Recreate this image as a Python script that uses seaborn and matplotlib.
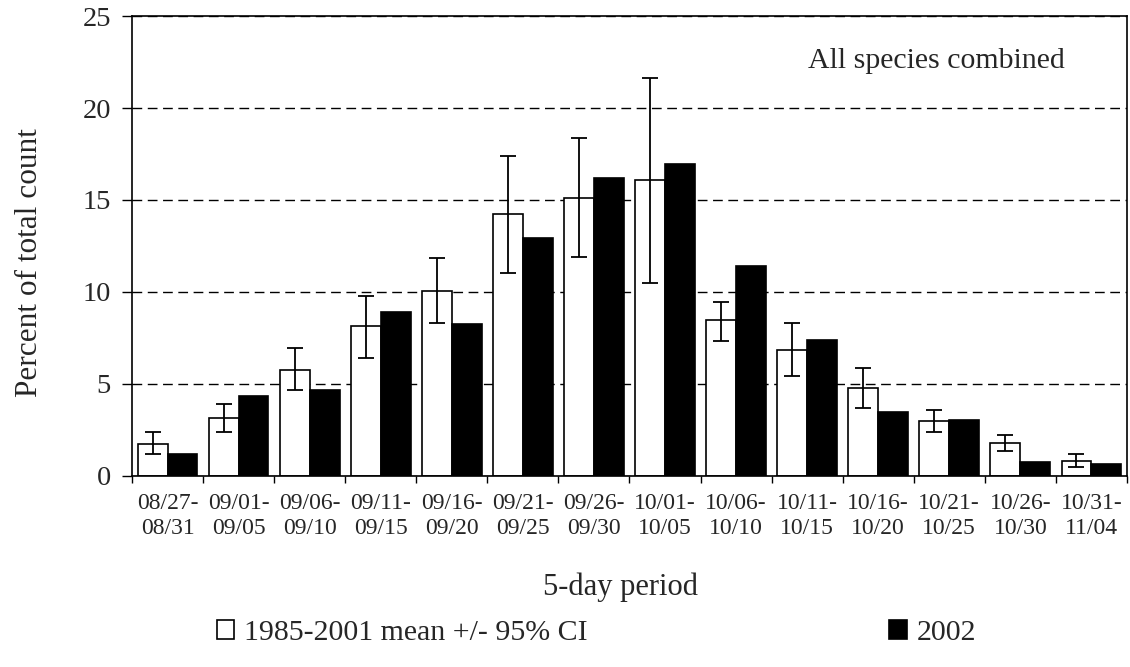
import numpy as np
import pandas as pd
import matplotlib
matplotlib.use("Agg")
import matplotlib.pyplot as plt
import seaborn as sns

periods = ["08/27-\n08/31", "09/01-\n09/05", "09/06-\n09/10", "09/11-\n09/15",
           "09/16-\n09/20", "09/21-\n09/25", "09/26-\n09/30", "10/01-\n10/05",
           "10/06-\n10/10", "10/11-\n10/15", "10/16-\n10/20", "10/21-\n10/25",
           "10/26-\n10/30", "10/31-\n11/04"]
mean_85_01 = [1.72, 3.13, 5.74, 8.13, 10.07, 14.22, 15.09, 16.07, 8.48, 6.85, 4.76, 3.01, 1.81, 0.83]
ci_low = [1.18, 2.37, 4.66, 6.39, 8.33, 11.05, 11.92, 10.51, 7.36, 5.42, 3.68, 2.37, 1.38, 0.51]
ci_high = [2.37, 3.89, 6.94, 9.78, 11.83, 17.39, 18.37, 21.61, 9.44, 8.33, 5.85, 3.57, 2.25, 1.18]
y_2002 = [1.21, 4.35, 4.69, 8.93, 8.28, 12.93, 16.18, 16.96, 11.41, 7.39, 3.48, 3.04, 0.76, 0.67]
series_names = ["1985-2001 mean +/- 95% CI", "2002"]
yticks = [0, 5, 10, 15, 20, 25]

sns.set_theme(style="white")
plt.rcParams['font.family'] = ['Liberation Serif', 'DejaVu Serif']

df = pd.DataFrame({
    "period": periods * 2,
    "value": mean_85_01 + y_2002,
    "series": [series_names[0]] * len(periods) + [series_names[1]] * len(periods),
})

fig = plt.figure(figsize=(11.3, 6.67), dpi=100)
ax = fig.add_axes([0.1168, 0.2864, 0.8805, 0.6896])

sns.barplot(data=df, x="period", y="value", hue="series", order=periods,
            hue_order=series_names,
            palette={series_names[0]: "white", series_names[1]: "black"},
            edgecolor="black", linewidth=1.2, width=0.84, saturation=1,
            errorbar=None, ax=ax, zorder=3)

# error bars on the first series, centred on its bars
bars = ax.containers[0]
centers = [p.get_x() + p.get_width() / 2 for p in bars]
m = np.array(mean_85_01)
yerr = [m - np.array(ci_low), np.array(ci_high) - m]
ax.errorbar(centers, m, yerr=yerr, fmt="none", ecolor="black",
            elinewidth=1.3, capsize=5.5, capthick=1.3, zorder=4)

ax.set_ylim(0, 25)
ax.set_xlim(-0.5, len(periods) - 0.5)
ax.set_yticks(yticks)
ax.yaxis.grid(True, linestyle=(0, (7, 4)), color="black", linewidth=1.0)
ax.xaxis.grid(False)
ax.set_axisbelow(True)

for s in ax.spines.values():
    s.set_color("black")
    s.set_linewidth(1.2)
    s.set_zorder(5)

ax.set_xticks(np.arange(len(periods)))
ax.set_xticklabels(periods, fontsize=17, linespacing=1.25)
ax.set_xticks(np.arange(-0.5, len(periods), 1), minor=True)
ax.tick_params(axis="x", which="major", length=0, pad=12)
ax.tick_params(axis="x", which="minor", direction="out", length=5, width=1, color="black", bottom=True)
ax.tick_params(axis="y", direction="out", length=7.2, width=1, color="black", left=True,
               labelsize=20.5, pad=8)

ax.set_xlabel("5-day period", fontsize=22)
ax.set_ylabel("Percent of total count", fontsize=22.5)
ax.xaxis.set_label_coords(0.491, -0.21)
ax.yaxis.set_label_coords(-0.088, 0.463)

ax.text(0.679, 0.887, "All species combined", transform=ax.transAxes,
        fontsize=21.5, ha="left", va="baseline")

sns.move_legend(ax, "center", bbox_to_anchor=(0.467, -0.342), ncol=2, title=None,
                frameon=False, fontsize=21.5, handlelength=0.6, handleheight=0.6,
                handletextpad=0.33, columnspacing=10.1)
leg = ax.get_legend()
for p in leg.get_patches():
    p.set_edgecolor("black")
    p.set_linewidth(1.2)

fig.savefig("out.png", dpi=100)
